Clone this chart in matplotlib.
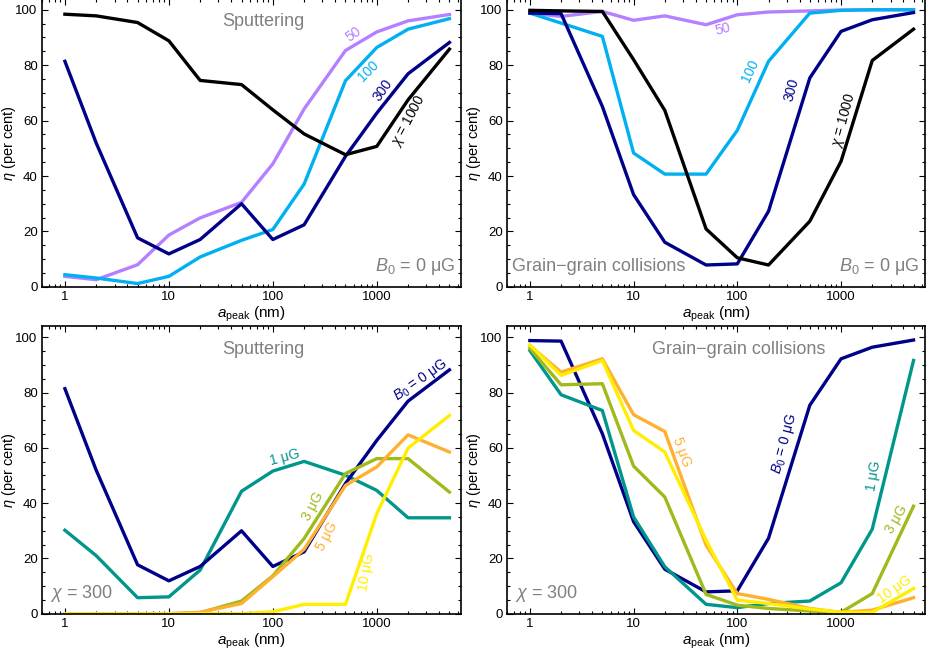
import matplotlib
matplotlib.use("Agg")
import matplotlib.pyplot as plt
from matplotlib.ticker import LogLocator, MultipleLocator, NullFormatter, FixedLocator, FixedFormatter

plt.rcParams["font.family"] = ["Liberation Sans", "DejaVu Sans"]
plt.rcParams["mathtext.fontset"] = "custom"
plt.rcParams["mathtext.rm"] = "Liberation Sans"
plt.rcParams["mathtext.it"] = "Liberation Sans:italic"

# grain sizes (nm)
a_peak = [1, 2, 5, 10, 20, 50, 100, 200, 500, 1000, 2000, 5000]

# sputtering, B0 = 0 uG, various chi
sput_chi50 = [3.8, 2.6, 8.0, 18.7, 24.9, 30.5, 44.4, 64.2, 85.3, 92.0, 96.0, 98.3]
sput_chi100 = [4.4, 3.2, 1.2, 3.8, 10.8, 16.8, 20.7, 37.1, 74.4, 86.4, 93.0, 96.8]
sput_chi300 = [81.4, 51.9, 17.7, 11.9, 17.1, 30.0, 17.1, 22.4, 47.1, 62.7, 76.9, 88.2]
sput_chi1000 = [98.4, 97.8, 95.4, 88.8, 74.5, 73.0, 63.9, 55.2, 47.7, 50.7, 67.5, 85.8]

# grain-grain collisions, B0 = 0 uG, various chi
coll_chi50 = [98.8, 97.6, 99.4, 96.2, 97.8, 94.6, 98.2, 99.2, 99.6, 99.9, 100.0, 100.0]
coll_chi100 = [98.8, 95.2, 90.4, 48.3, 40.7, 40.7, 56.5, 81.4, 98.8, 99.8, 100.0, 100.0]
coll_chi300 = [98.8, 98.6, 65.1, 33.3, 16.1, 7.9, 8.3, 27.3, 75.4, 92.2, 96.4, 99.0]
coll_chi1000 = [99.8, 99.6, 99.4, 82.0, 63.7, 20.9, 10.5, 7.9, 23.7, 45.3, 81.7, 93.0]

# sputtering, chi = 300, various B0
sput_b1 = [30.2, 21.0, 5.8, 6.1, 15.8, 44.3, 51.6, 55.1, 50.1, 44.6, 34.7, 34.7]
sput_b3 = [0.0, 0.0, 0.0, 0.0, 0.4, 4.6, 13.7, 27.2, 50.7, 56.1, 56.1, 44.0]
sput_b5 = [0.0, 0.0, 0.0, 0.0, 0.5, 3.7, 13.4, 23.3, 46.4, 53.1, 64.7, 58.5]
sput_b10 = [0.0, 0.0, 0.0, 0.0, 0.0, 0.0, 0.7, 3.4, 3.4, 36.2, 59.9, 71.7]

# grain-grain collisions, chi = 300, various B0
coll_b1 = [95.2, 79.2, 73.5, 35.0, 17.0, 3.4, 2.2, 3.7, 4.6, 11.2, 30.6, 91.6]
coll_b3 = [96.0, 82.8, 83.2, 53.4, 42.2, 7.0, 3.1, 1.9, 1.0, 0.5, 7.3, 38.9]
coll_b5 = [97.0, 87.4, 92.2, 72.0, 65.9, 24.8, 7.3, 5.2, 1.9, 0.5, 1.3, 5.8]
coll_b10 = [97.2, 86.2, 91.6, 66.3, 58.5, 26.6, 4.9, 3.7, 1.7, 0.5, 0.5, 9.1]

C50, C100, C300, C1000 = "#b580ff", "#00b0f0", "#000088", "#000000"
CB1, CB3, CB5, CB10 = "#00968c", "#9fba1a", "#ffb030", "#ffee00"
GREY = "#808080"
LW = 2.4


def style_axes(ax):
    ax.set_xscale("log")
    ax.set_xlim(0.6, 6500)
    ax.set_ylim(0, 104)
    ax.xaxis.set_major_locator(FixedLocator([1, 10, 100, 1000]))
    ax.xaxis.set_major_formatter(FixedFormatter(["1", "10", "100", "1000"]))
    ax.xaxis.set_minor_locator(LogLocator(base=10, subs=range(2, 10), numticks=20))
    ax.xaxis.set_minor_formatter(NullFormatter())
    ax.yaxis.set_major_locator(MultipleLocator(20))
    ax.yaxis.set_minor_locator(MultipleLocator(5))
    ax.tick_params(which="both", direction="in", top=True, right=True, labelsize=9.5, pad=3)
    ax.tick_params(which="major", length=4, width=0.8)
    ax.tick_params(which="minor", length=2, width=0.8)
    for s in ax.spines.values():
        s.set_linewidth(1.2)
    ax.set_xlabel(r"$a_{\rm peak}$ (nm)", fontsize=11, labelpad=1)
    ax.set_ylabel(r"$\eta$ (per cent)", fontsize=10.5)
    ax.yaxis.set_label_coords(-0.056, 0.5)


def lab(ax, x, y, s, c, rot):
    ax.text(x, y, s, color=c, rotation=rot, fontsize=10, ha="center", va="center",
            rotation_mode="anchor")


fig = plt.figure(figsize=(9.3, 6.55), dpi=100)
ax1 = fig.add_axes([0.045, 0.562, 0.451, 0.44])
ax2 = fig.add_axes([0.545, 0.562, 0.450, 0.44])
ax3 = fig.add_axes([0.045, 0.063, 0.451, 0.439])
ax4 = fig.add_axes([0.545, 0.063, 0.450, 0.439])

# top left: sputtering, B0 = 0
ax1.plot(a_peak, sput_chi50, color=C50, lw=LW)
ax1.plot(a_peak, sput_chi100, color=C100, lw=LW)
ax1.plot(a_peak, sput_chi300, color=C300, lw=LW)
ax1.plot(a_peak, sput_chi1000, color=C1000, lw=LW)
lab(ax1, 600, 91, "50", C50, 35)
lab(ax1, 830, 78, "100", C100, 45)
lab(ax1, 1150, 71, "300", C300, 55)
lab(ax1, 2050, 60, r"$\chi$ = 1000", C1000, 62)

# top right: grain-grain collisions, B0 = 0
ax2.plot(a_peak, coll_chi50, color=C50, lw=LW)
ax2.plot(a_peak, coll_chi100, color=C100, lw=LW)
ax2.plot(a_peak, coll_chi300, color=C300, lw=LW)
ax2.plot(a_peak, coll_chi1000, color=C1000, lw=LW)
lab(ax2, 72, 93, "50", C50, 15)
lab(ax2, 134, 78, "100", C100, 65)
lab(ax2, 330, 71, "300", C300, 75)
lab(ax2, 1080, 60, r"$\chi$ = 1000", C1000, 75)

# bottom left: sputtering, chi = 300
ax3.plot(a_peak, sput_b1, color=CB1, lw=LW)
ax3.plot(a_peak, sput_chi300, color=C300, lw=LW)
ax3.plot(a_peak, sput_b3, color=CB3, lw=LW)
ax3.plot(a_peak, sput_b5, color=CB5, lw=LW)
ax3.plot(a_peak, sput_b10, color=CB10, lw=LW)
lab(ax3, 2650, 84.5, r"$B_0$ = 0 μG", C300, 35)
lab(ax3, 130, 56.5, "1 μG", CB1, 15)
lab(ax3, 245, 39, "3 μG", CB3, 62)
lab(ax3, 330, 28, "5 μG", CB5, 62)
lab(ax3, 800, 15, "10 μG", CB10, 80)

# bottom right: grain-grain collisions, chi = 300
ax4.plot(a_peak, coll_chi300, color=C300, lw=LW)
ax4.plot(a_peak, coll_b1, color=CB1, lw=LW)
ax4.plot(a_peak, coll_b3, color=CB3, lw=LW)
ax4.plot(a_peak, coll_b5, color=CB5, lw=LW)
ax4.plot(a_peak, coll_b10, color=CB10, lw=LW)
lab(ax4, 29, 58.5, "5 μG", CB5, -70)
lab(ax4, 285, 61.5, r"$B_0$ = 0 μG", C300, 75)
lab(ax4, 2050, 50, "1 μG", CB1, 80)
lab(ax4, 3450, 34, "3 μG", CB3, 60)
lab(ax4, 3300, 9, "10 μG", CB10, 35)

for ax in (ax1, ax2, ax3, ax4):
    style_axes(ax)

ax1.text(0.527, 0.92, "Sputtering", transform=ax1.transAxes, color=GREY, fontsize=13,
         ha="center", va="center")
ax1.text(0.985, 0.07, r"$B_0$ = 0 μG", transform=ax1.transAxes, color=GREY, fontsize=13,
         ha="right", va="center")
ax2.text(0.985, 0.07, r"$B_0$ = 0 μG", transform=ax2.transAxes, color=GREY, fontsize=13,
         ha="right", va="center")
ax2.text(0.012, 0.07, "Grain\u2212grain collisions", transform=ax2.transAxes, color=GREY,
         fontsize=13, ha="left", va="center")
ax3.text(0.527, 0.92, "Sputtering", transform=ax3.transAxes, color=GREY, fontsize=13,
         ha="center", va="center")
ax3.text(0.02, 0.07, r"$\chi$ = 300", transform=ax3.transAxes, color=GREY, fontsize=13,
         ha="left", va="center")
ax4.text(0.555, 0.92, "Grain\u2212grain collisions", transform=ax4.transAxes, color=GREY,
         fontsize=13, ha="center", va="center")
ax4.text(0.02, 0.07, r"$\chi$ = 300", transform=ax4.transAxes, color=GREY, fontsize=13,
         ha="left", va="center")

fig.savefig("out.png", dpi=100)
